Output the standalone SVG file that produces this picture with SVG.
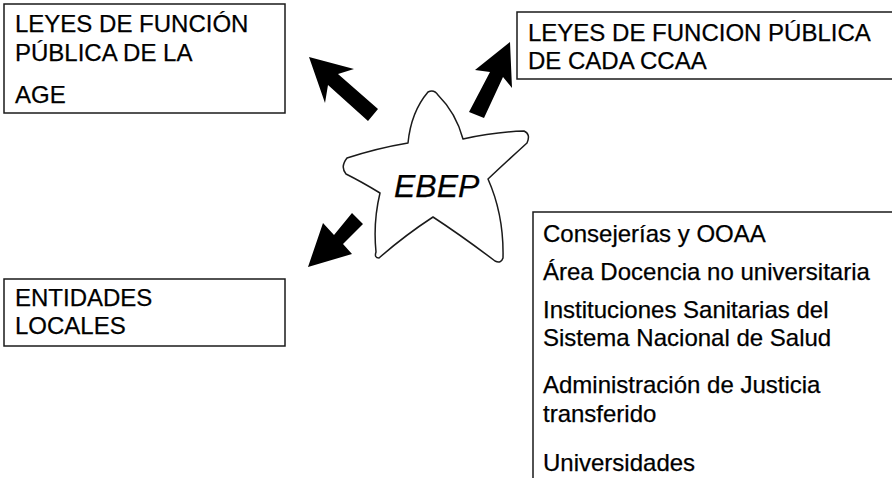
<svg xmlns="http://www.w3.org/2000/svg" width="892" height="478" viewBox="0 0 892 478">
<style>
.box{fill:#fff;stroke:#1a1a1a;stroke-width:1.5}
.t{font-family:"Liberation Sans",Arial,sans-serif;font-size:24px;fill:#000;stroke:#000;stroke-width:0.25}
.arrow{fill:#000}
.star{fill:#fff;stroke:#1a1a1a;stroke-width:1.5;stroke-linejoin:round}
</style>
<rect width="892" height="478" fill="#fff"/>
<g id="connectors">
<polygon class="arrow" points="378,109 338,74 354,69 309,57 325,103 328,85 368,121"/>
<polygon class="arrow" points="469,112 490,72 475,70 510,42 512,88 503,77 484,118"/>
<polygon class="arrow" points="352,213 334,235 323,223 308,267 352,254 343,244 363,224"/>
</g>
<g id="node-age">
<rect class="box" x="4" y="4" width="281" height="109"/>
<text class="t" x="15" y="31.5">LEYES DE FUNCIÓN</text>
<text class="t" x="15" y="61">PÚBLICA DE LA</text>
<text class="t" x="15" y="103">AGE</text>
</g>
<g id="node-ccaa">
<rect class="box" x="517" y="12" width="400" height="67"/>
<text class="t" x="528" y="41">LEYES DE FUNCION PÚBLICA</text>
<text class="t" x="528" y="69">DE CADA CCAA</text>
</g>
<g id="node-ebep">
<path class="star" d="M428 92 Q434 89 438 95 Q456 113 463 139 Q494 132 524 131 Q531 134 527 143 Q505 163 488 179 Q504 215 503 258 Q501 264 495 261 Q462 236 433 217 Q404 236 379 258 Q374 258 376 252 Q373 222 380 193 Q362 182 346 174 Q340 167 347 158 Q378 148 408 143 Q411 112 428 92 Z"/>
<text class="t" x="394" y="197" style="font-size:32px;font-style:italic">EBEP</text>
</g>
<g id="node-locales">
<rect class="box" x="4" y="279" width="281" height="67"/>
<text class="t" x="15" y="306">ENTIDADES</text>
<text class="t" x="15" y="334">LOCALES</text>
</g>
<g id="node-ccaa-areas">
<rect class="box" x="533" y="212" width="400" height="300"/>
<text class="t" x="543" y="242">Consejerías y OOAA</text>
<text class="t" x="543" y="280">Área Docencia no universitaria</text>
<text class="t" x="543" y="318">Instituciones Sanitarias del</text>
<text class="t" x="543" y="346">Sistema Nacional de Salud</text>
<text class="t" x="543" y="393">Administración de Justicia</text>
<text class="t" x="543" y="422">transferido</text>
<text class="t" x="543" y="471">Universidades</text>
</g>
</svg>
